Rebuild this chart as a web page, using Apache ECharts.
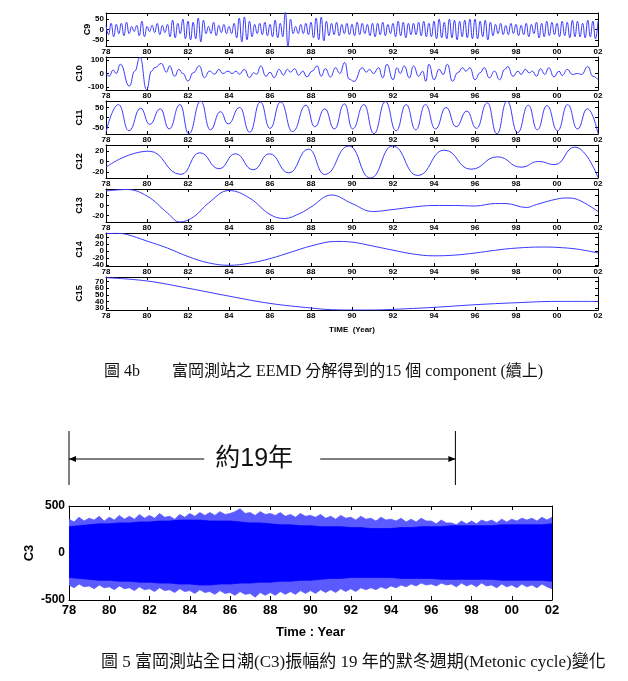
<!DOCTYPE html>
<html><head><meta charset="utf-8">
<script src="https://cdn.jsdelivr.net/npm/echarts@6/dist/echarts.min.js"></script>
<style>html,body{margin:0;padding:0;background:#fff}#c{width:628px;height:681px}</style>
</head><body><div id="c"></div>
<script>
// ---------- DATA ----------
const yearMin = 78, yearMax = 102, yearStep = 2;
const panelNames = ['C9','C10','C11','C12','C13','C14','C15'];
const panelMin = [-80,-120,-82,-32,-33,-43,27];
const panelMax = [80,120,82,32,33,51,77];
const panelTicks = [[-50,0,50],[-100,0,100],[-50,0,50],[-20,0,20],[-20,0,20],[-40,-20,0,20,40],[30,40,50,60,70]];

// C9: uniformly sampled extrema, every 0.125 year from 78
const c9Start = 78, c9Step = 0.125;
const c9 = [
 20,-25,30,-35,25,-20,30,-30,
 35,-20,15,-10,20,-30,40,-35,
 15,-10,20,-15,30,-25,20,-15,
 25,-35,45,-40,30,-20,50,-45,
 40,-50,35,-45,55,-60,45,-20,
 15,-20,35,-30,20,-15,25,-20,
 15,-20,30,-40,55,-60,60,-50,
 40,-35,25,-20,30,-25,35,-30,
 25,-35,45,-40,30,-35,85,-85,
 50,-20,15,-20,25,-20,30,-25,
 35,-40,55,-50,60,-55,40,-30,
 30,-25,35,-30,25,-20,30,-25,
 25,-30,35,-25,30,-20,25,-30,
 30,-35,30,-25,35,-30,25,-20,
 30,-35,40,-30,35,-40,30,-25,
 30,-25,35,-30,40,-35,30,-35,
 40,-45,50,-40,35,-45,50,-40,
 45,-50,40,-35,45,-40,50,-45,
 50,-45,40,-35,45,-50,35,-30,
 25,-20,30,-25,20,-25,30,-20,
 25,-30,20,-25,30,-35,25,-20,
 35,-40,30,-35,40,-30,35,-25,
 30,-35,40,-30,35,-40,45,-35,
 40,-35,30,-40,45,-35,40,-45,
 40
];
const c10 = [[78.0,5],[78.15,-20],[78.35,25],[78.5,0],[78.7,67],[79.14,-92],[79.4,17],[79.66,118],[79.98,-118],[80.22,18],[80.38,43],[80.7,73],[80.95,10],[81.1,55],[81.35,-20],[81.55,30],[81.75,0],[82.0,-55],[82.25,5],[82.55,55],[82.8,-30],[83.05,18],[83.3,-5],[83.5,30],[83.7,0],[83.95,17],[84.15,0],[84.35,17],[84.5,-5],[84.75,30],[85.0,-30],[85.2,5],[85.35,-5],[85.55,55],[85.8,-20],[86.0,10],[86.2,-30],[86.45,30],[86.65,-12],[86.85,30],[87.0,10],[87.2,35],[87.4,-12],[87.6,17],[87.8,-25],[88.05,17],[88.3,55],[88.5,-20],[88.7,35],[88.95,-25],[89.2,42],[89.4,0],[89.65,80],[89.85,-40],[90.1,-57],[90.5,42],[90.7,10],[90.85,30],[91.05,0],[91.3,42],[91.5,-32],[91.7,67],[92.0,-45],[92.2,42],[92.35,0],[92.55,55],[92.8,-32],[93.0,55],[93.25,-20],[93.45,17],[93.6,-57],[93.75,67],[94.0,-45],[94.25,30],[94.45,-7],[94.65,67],[94.9,-57],[95.15,5],[95.4,42],[95.55,17],[95.75,42],[96.0,-45],[96.25,5],[96.45,42],[96.7,-32],[96.95,17],[97.2,-45],[97.45,30],[97.6,50],[97.85,-20],[98.1,17],[98.25,-7],[98.45,30],[98.65,5],[98.8,17],[99.0,-20],[99.2,35],[99.4,-7],[99.6,42],[99.85,-25],[100.1,17],[100.25,-15],[100.5,30],[100.75,-7],[101.0,0],[101.2,-7],[101.5,50],[101.75,-20],[102.0,-45]];
const c11 = [[78.0,-75],[78.61,64],[79.12,-66],[79.69,46],[80.13,-34],[80.65,43],[81.08,-57],[81.61,64],[82.04,-81],[82.62,81],[83.09,-61],[83.58,29],[83.96,-32],[84.52,50],[85.01,-73],[85.53,77],[86.0,-54],[86.52,77],[87.1,-70],[87.76,61],[88.18,-46],[88.67,43],[89.14,-57],[89.63,68],[90.03,-57],[90.58,64],[91.07,-80],[91.63,79],[92.15,-66],[92.64,64],[93.11,-61],[93.58,64],[94.07,-57],[94.59,50],[95.08,-46],[95.6,32],[96.07,-54],[96.6,73],[97.07,-81],[97.56,81],[98.08,-75],[98.6,61],[99.04,-61],[99.51,59],[100.03,-66],[100.52,64],[101.0,-57],[101.48,43],[102.0,-79]];
const c12 = [[78,-11],[80.1,20],[81.66,-25],[82.57,17],[83.52,-14],[84.31,15],[85.18,-16],[85.97,15],[86.92,-22],[87.88,24],[88.67,-25],[89.85,30],[90.9,-32],[91.98,30],[93.2,-27],[94.5,22],[95.8,-15],[97.1,9],[98.25,-11],[99.1,0],[99.9,-6],[100.87,28],[102,-31]];
const c13 = [[78,29],[79,32],[80,19],[81,-15],[81.6,-33],[82.3,-22],[83,5],[84,30],[85,15],[86,-18],[86.7,-26],[87.5,-15],[88,-3],[89,21],[90,4],[91,-12],[92,-8],[93,-3],[94,0],[95,0],[96,-1],[97,4],[97.5,4],[98.5,-4],[99,2],[100,13],[100.5,15],[101,12],[102,-12]];
const c14 = [[78,49],[78.5,50],[79,47],[80,28],[81,8],[82,-16],[83,-34],[84,-41],[85,-35],[86,-22],[87,-4],[88,14],[89.2,27],[90,25],[91,14],[92,2],[93,-9],[94,-14],[95,-12],[96,-6],[97,2],[98,8],[99.3,11],[100,10],[101,5],[102,-6]];
const c15 = [[78,76],[80,71],[82,60],[84,48],[86,37],[88,30],[89,27.5],[90,27],[91,27],[92,28],[94,31],[96,35],[98,38],[100,40],[102,40]];

// C3 band: outer envelope every 0.25 yr, core envelope every 0.5 yr
const c3Start = 78, c3OuterStep = 0.25, c3CoreStep = 0.5;
const c3OuterUp = [
 360,330,380,340, 370,350,390,340, 380,350,400,360, 390,360,410,370,
 400,370,420,380, 390,360,410,380, 420,390,430,400, 430,400,440,410,
 420,440,470,420, 430,400,440,410, 420,400,430,390, 410,380,420,390,
 400,380,410,370, 390,360,400,370, 380,350,390,360, 370,340,380,350,
 360,340,370,330, 360,330,370,340, 340,310,350,320, 320,300,340,310,
 340,310,350,330, 350,320,360,330, 360,340,370,350, 370,340,380,350,
 380];
const c3OuterDown = [
 -340,-370,-330,-360, -350,-380,-340,-370, -360,-390,-350,-380, -370,-400,-360,-390,
 -380,-410,-370,-400, -390,-420,-380,-410, -400,-430,-390,-420, -410,-440,-400,-430,
 -420,-450,-410,-440, -430,-470,-420,-450, -420,-450,-410,-440, -410,-440,-400,-430,
 -400,-430,-390,-420, -390,-420,-380,-410, -380,-410,-370,-390, -370,-390,-360,-380,
 -350,-370,-340,-360, -330,-350,-320,-340, -330,-350,-320,-340, -330,-360,-320,-350,
 -330,-360,-320,-350, -340,-370,-330,-360, -340,-370,-330,-360, -340,-370,-330,-360,
 -380];
const c3CoreUp = [280,290,300,310,310,320,320,330,330,340,340,350,350,350,340,340,340,330,320,320,310,300,300,290,290,280,280,280,270,270,260,260,260,270,270,280,280,280,290,290,290,290,290,300,300,300,300,300,310];
const c3CoreDown = [-260,-270,-280,-290,-290,-300,-300,-310,-310,-320,-320,-330,-330,-340,-340,-330,-330,-320,-320,-310,-310,-300,-300,-290,-290,-280,-270,-270,-260,-260,-260,-260,-260,-270,-270,-270,-270,-280,-280,-280,-280,-280,-280,-290,-290,-290,-290,-290,-300];

const metonicSpan = [78, 97.2];
const metonicLabel = '約19年';
const caption1 = '圖 4b\u3000\u3000富岡測站之 EEMD 分解得到的15 個 component (續上)';
const caption2 = '圖 5 富岡測站全日潮(C3)振幅約 19 年的默冬週期(Metonic cycle)變化';

// ---------- BUILD ----------
const uniform = (start, step, arr) => arr.map((v, i) => [start + i * step, v]);
const panelData = [uniform(c9Start, c9Step, c9), c10, c11, c12, c13, c14, c15];
const monotone = [true, true, true, true, false, false, false];

const fmtYear = v => { const y = Math.round(v) % 100; return (y < 10 ? '0' : '') + y; };
const FONT = 'Liberation Sans, Arial, sans-serif';
const LINE = '#3a3aff';

const grid = [], xAxis = [], yAxis = [], series = [];
const tick = (len) => ({ show: true, inside: true, length: len, lineStyle: { color: '#000', width: 1 } });
const axLine = { show: true, onZero: false, lineStyle: { color: '#000', width: 1 } };
const lbl = (size, extra) => Object.assign({ fontSize: size, fontWeight: 'bold', color: '#000', fontFamily: FONT,
  hideOverlap: false, showMinLabel: true, showMaxLabel: true }, extra || {});

for (let i = 0; i < 7; i++) {
  grid.push({ left: 106, width: 492, top: 13 + 44 * i, height: 33, containLabel: false });
  const xIdx = xAxis.length;
  xAxis.push({ gridIndex: i, type: 'value', min: yearMin, max: yearMax, interval: yearStep, position: 'bottom',
    axisLine: axLine, axisTick: tick(3), splitLine: { show: false },
    axisLabel: lbl(8, { formatter: fmtYear, margin: 2 }),
    name: i === 6 ? 'TIME  (Year)' : '', nameLocation: 'middle', nameGap: 16, nameMoveOverlap: false,
    nameTextStyle: { fontSize: 8, fontWeight: 'bold', color: '#000', fontFamily: FONT } });
  xAxis.push({ gridIndex: i, type: 'value', min: yearMin, max: yearMax, interval: yearStep, position: 'top',
    axisLine: axLine, axisTick: tick(3), axisLabel: { show: false }, splitLine: { show: false } });
  const yIdx = yAxis.length;
  yAxis.push({ gridIndex: i, type: 'value', min: panelMin[i], max: panelMax[i], position: 'left',
    axisLine: axLine, splitLine: { show: false },
    axisTick: Object.assign(tick(3), { customValues: panelTicks[i] }),
    axisLabel: { show: false },
    name: panelNames[i], nameLocation: 'middle', nameRotate: 90, nameGap: i === 0 ? 14 : 22, nameMoveOverlap: false,
    nameTextStyle: { fontSize: 9, fontWeight: 'bold', color: '#000', fontFamily: FONT } });
  yAxis.push({ gridIndex: i, type: 'value', min: panelMin[i], max: panelMax[i], position: 'right',
    axisLine: axLine, splitLine: { show: false }, axisLabel: { show: false },
    axisTick: Object.assign(tick(3), { customValues: panelTicks[i] }) });
  // one label-only axis per tick value so that crowded labels are all drawn (as in the reference)
  panelTicks[i].forEach(v => {
    yAxis.push({ gridIndex: i, type: 'value', min: panelMin[i], max: panelMax[i], position: 'left',
      axisLine: { show: false }, axisTick: { show: false }, splitLine: { show: false },
      axisLabel: lbl(8, { customValues: [v], margin: 2 }) });
  });
  series.push({ type: 'line', xAxisIndex: xIdx, yAxisIndex: yIdx, data: panelData[i], showSymbol: false,
    symbol: 'none', smooth: monotone[i] ? 0.5 : 0.4, smoothMonotone: monotone[i] ? 'x' : undefined,
    lineStyle: { color: LINE, width: 1 }, silent: true, animation: false, clip: true });
}

// bottom C3 chart
const bx = xAxis.length, by = yAxis.length;
grid.push({ left: 69, width: 483, top: 506, height: 94 });
xAxis.push({ gridIndex: 7, type: 'value', min: yearMin, max: yearMax, interval: yearStep, position: 'bottom',
  axisLine: axLine, axisTick: tick(4), splitLine: { show: false },
  axisLabel: lbl(13, { formatter: fmtYear, margin: 4 }),
  name: 'Time : Year', nameLocation: 'middle', nameGap: 26, nameMoveOverlap: false,
  nameTextStyle: { fontSize: 13, fontWeight: 'bold', color: '#000', fontFamily: FONT } });
xAxis.push({ gridIndex: 7, type: 'value', min: yearMin, max: yearMax, interval: yearStep, position: 'top',
  axisLine: axLine, axisTick: tick(4), axisLabel: { show: false }, splitLine: { show: false } });
yAxis.push({ gridIndex: 7, type: 'value', min: -500, max: 500, interval: 500, position: 'left',
  axisLine: axLine, axisTick: tick(4), splitLine: { show: false },
  axisLabel: lbl(12, { margin: 4 }),
  name: 'C3', nameLocation: 'middle', nameRotate: 90, nameGap: 33, nameMoveOverlap: false,
  nameTextStyle: { fontSize: 13, fontWeight: 'bold', color: '#000', fontFamily: FONT } });
yAxis.push({ gridIndex: 7, type: 'value', min: -500, max: 500, interval: 500, position: 'right',
  axisLine: axLine, axisTick: tick(4), axisLabel: { show: false }, splitLine: { show: false } });

const band = (data, color, z) => ({ type: 'line', xAxisIndex: bx, yAxisIndex: by, data, symbol: 'none',
  lineStyle: { color, width: 0.8 }, areaStyle: { color, opacity: 1 }, z, silent: true, animation: false });
series.push(band(uniform(c3Start, c3OuterStep, c3OuterUp), '#5a5aff', 2));
series.push(band(uniform(c3Start, c3OuterStep, c3OuterDown), '#5a5aff', 2));
series.push(band(uniform(c3Start, c3CoreStep, c3CoreUp), '#0000ff', 3));
series.push(band(uniform(c3Start, c3CoreStep, c3CoreDown), '#0000ff', 3));

const chart = echarts.init(document.getElementById('c'), null, { renderer: 'canvas' });
chart.setOption({ backgroundColor: '#fff', animation: false, grid, xAxis, yAxis, series });

// annotation + captions
const xa = chart.convertToPixel({ xAxisIndex: bx }, metonicSpan[0]);
const xb = chart.convertToPixel({ xAxisIndex: bx }, metonicSpan[1]);
const xm = (xa + xb) / 2, ay = 459, gap = 58;
const st = { stroke: '#000', lineWidth: 1 };
chart.setOption({ graphic: [
  { type: 'line', shape: { x1: xa, y1: 431, x2: xa, y2: 485 }, style: st },
  { type: 'line', shape: { x1: xb, y1: 431, x2: xb, y2: 485 }, style: st },
  { type: 'line', shape: { x1: xa, y1: ay, x2: xm - gap, y2: ay }, style: st },
  { type: 'line', shape: { x1: xm + gap, y1: ay, x2: xb, y2: ay }, style: st },
  { type: 'polygon', shape: { points: [[xa, ay], [xa + 7, ay - 3], [xa + 7, ay + 3]] }, style: { fill: '#000' } },
  { type: 'polygon', shape: { points: [[xb, ay], [xb - 7, ay - 3], [xb - 7, ay + 3]] }, style: { fill: '#000' } },
  { type: 'text', x: xm - 8, y: ay, style: { text: metonicLabel, fontSize: 25, fontFamily: 'Liberation Sans, Noto Sans CJK TC', fill: '#111', align: 'center', verticalAlign: 'middle' } },
  { type: 'text', x: 104, y: 372, style: { text: caption1, fontSize: 16, fontFamily: 'Liberation Serif, Noto Sans CJK TC', fill: '#111', align: 'left', verticalAlign: 'middle' } },
  { type: 'text', x: 101, y: 663, style: { text: caption2, fontSize: 17, fontFamily: 'Liberation Serif, Noto Sans CJK TC', fill: '#111', align: 'left', verticalAlign: 'middle' } }
]});
</script></body></html>
